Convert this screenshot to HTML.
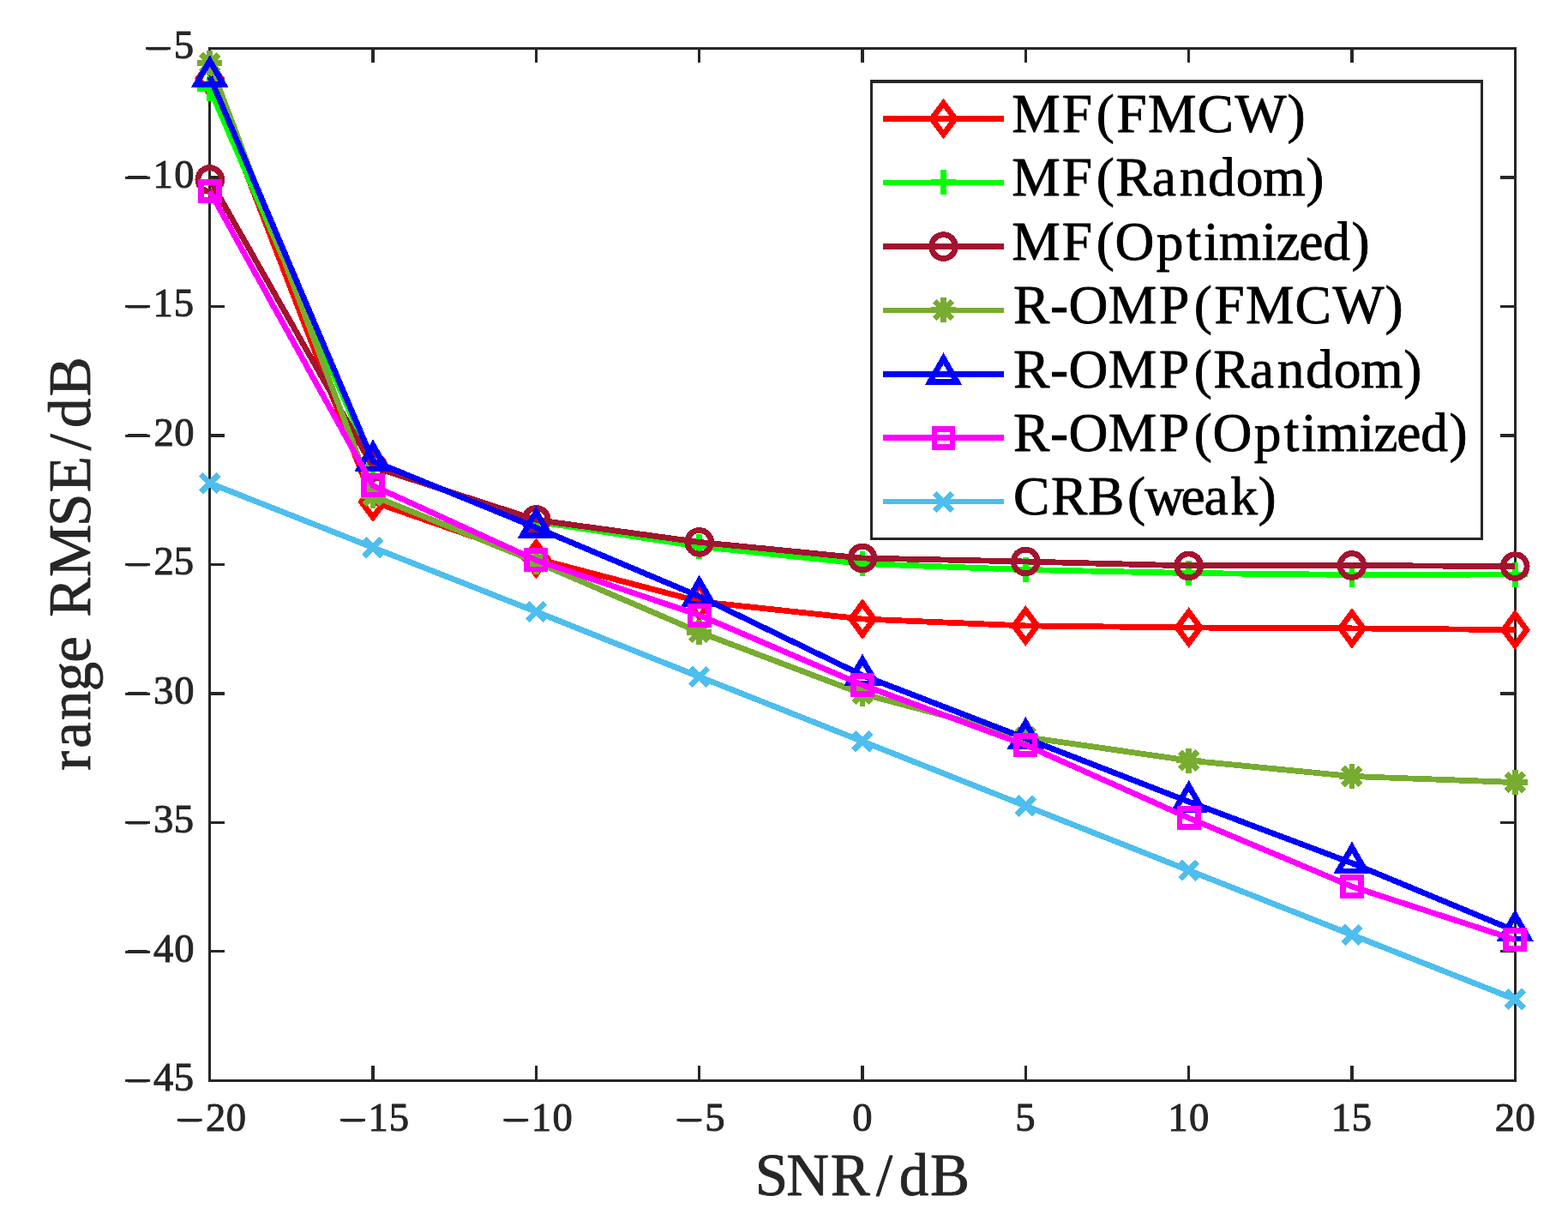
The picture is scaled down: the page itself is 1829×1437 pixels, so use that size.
<!DOCTYPE html>
<html lang="en"><head><meta charset="utf-8"><title>range RMSE/dB, SNR/dB</title>
<style>html,body{margin:0;padding:0;background:#fff}body{width:1829px;height:1437px;overflow:hidden}svg{display:block}text{font-family:"Liberation Serif","DejaVu Serif",serif;white-space:pre;stroke-linejoin:round}</style></head><body>
<svg width="1829" height="1437" viewBox="0 0 1829 1437">
<rect width="1829" height="1437" fill="#fff"/>
<g fill="#262626" shape-rendering="crispEdges">
<rect x="243" y="55" width="1526" height="3"/><rect x="243" y="1259" width="1526" height="3"/>
<rect x="243" y="55" width="3" height="1207"/><rect x="1766" y="55" width="3" height="1207"/>
<rect x="433" y="1243" width="4" height="17.2"/>
<rect x="433" y="56.7" width="4" height="16.3"/>
<rect x="624" y="1243" width="3" height="17.2"/>
<rect x="624" y="56.7" width="3" height="16.3"/>
<rect x="814" y="1243" width="3" height="17.2"/>
<rect x="814" y="56.7" width="3" height="16.3"/>
<rect x="1004" y="1243" width="4" height="17.2"/>
<rect x="1004" y="56.7" width="4" height="16.3"/>
<rect x="1195" y="1243" width="3" height="17.2"/>
<rect x="1195" y="56.7" width="3" height="16.3"/>
<rect x="1385" y="1243" width="3" height="17.2"/>
<rect x="1385" y="56.7" width="3" height="16.3"/>
<rect x="1575" y="1243" width="4" height="17.2"/>
<rect x="1575" y="56.7" width="4" height="16.3"/>
<rect x="244.75" y="205" width="17.25" height="4"/>
<rect x="1750" y="205" width="17.25" height="4"/>
<rect x="244.75" y="356" width="17.25" height="3"/>
<rect x="1750" y="356" width="17.25" height="3"/>
<rect x="244.75" y="506" width="17.25" height="4"/>
<rect x="1750" y="506" width="17.25" height="4"/>
<rect x="244.75" y="657" width="17.25" height="3"/>
<rect x="1750" y="657" width="17.25" height="3"/>
<rect x="244.75" y="807" width="17.25" height="4"/>
<rect x="1750" y="807" width="17.25" height="4"/>
<rect x="244.75" y="958" width="17.25" height="3"/>
<rect x="1750" y="958" width="17.25" height="3"/>
<rect x="244.75" y="1108" width="17.25" height="3"/>
<rect x="1750" y="1108" width="17.25" height="3"/>
</g>
<g shape-rendering="crispEdges">
<polyline points="244.75,91.5 435.06,585.2 625.38,651.5 815.69,701.6 1006,722 1196.31,729.9 1386.62,732 1576.94,732.9 1767.25,734.6" fill="none" stroke="#FF0000" stroke-width="6.8" stroke-linejoin="round" stroke-linecap="butt"/>
<path d="M244.75 73.3L258.25 91.5L244.75 109.7L231.25 91.5Z" fill="none" stroke="#FF0000" stroke-width="6.8" stroke-linejoin="miter" stroke-miterlimit="10"/>
<path d="M435.06 567L448.56 585.2L435.06 603.4L421.56 585.2Z" fill="none" stroke="#FF0000" stroke-width="6.8" stroke-linejoin="miter" stroke-miterlimit="10"/>
<path d="M625.38 633.3L638.88 651.5L625.38 669.7L611.88 651.5Z" fill="none" stroke="#FF0000" stroke-width="6.8" stroke-linejoin="miter" stroke-miterlimit="10"/>
<path d="M815.69 683.4L829.19 701.6L815.69 719.8L802.19 701.6Z" fill="none" stroke="#FF0000" stroke-width="6.8" stroke-linejoin="miter" stroke-miterlimit="10"/>
<path d="M1006 703.8L1019.5 722L1006 740.2L992.5 722Z" fill="none" stroke="#FF0000" stroke-width="6.8" stroke-linejoin="miter" stroke-miterlimit="10"/>
<path d="M1196.31 711.7L1209.81 729.9L1196.31 748.1L1182.81 729.9Z" fill="none" stroke="#FF0000" stroke-width="6.8" stroke-linejoin="miter" stroke-miterlimit="10"/>
<path d="M1386.62 713.8L1400.12 732L1386.62 750.2L1373.12 732Z" fill="none" stroke="#FF0000" stroke-width="6.8" stroke-linejoin="miter" stroke-miterlimit="10"/>
<path d="M1576.94 714.7L1590.44 732.9L1576.94 751.1L1563.44 732.9Z" fill="none" stroke="#FF0000" stroke-width="6.8" stroke-linejoin="miter" stroke-miterlimit="10"/>
<path d="M1767.25 716.4L1780.75 734.6L1767.25 752.8L1753.75 734.6Z" fill="none" stroke="#FF0000" stroke-width="6.8" stroke-linejoin="miter" stroke-miterlimit="10"/>
<polyline points="244.75,103.4 435.06,543 625.38,608.3 815.69,637.4 1006,657.5 1196.31,664.5 1386.62,668.5 1576.94,670.4 1767.25,670" fill="none" stroke="#00FF00" stroke-width="6.8" stroke-linejoin="round" stroke-linecap="butt"/>
<path d="M230.25 103.4H259.25M244.75 88.9V117.9" fill="none" stroke="#00FF00" stroke-width="6.8" stroke-linejoin="miter" stroke-miterlimit="10"/>
<path d="M420.56 543H449.56M435.06 528.5V557.5" fill="none" stroke="#00FF00" stroke-width="6.8" stroke-linejoin="miter" stroke-miterlimit="10"/>
<path d="M610.88 608.3H639.88M625.38 593.8V622.8" fill="none" stroke="#00FF00" stroke-width="6.8" stroke-linejoin="miter" stroke-miterlimit="10"/>
<path d="M801.19 637.4H830.19M815.69 622.9V651.9" fill="none" stroke="#00FF00" stroke-width="6.8" stroke-linejoin="miter" stroke-miterlimit="10"/>
<path d="M991.5 657.5H1020.5M1006 643V672" fill="none" stroke="#00FF00" stroke-width="6.8" stroke-linejoin="miter" stroke-miterlimit="10"/>
<path d="M1181.81 664.5H1210.81M1196.31 650V679" fill="none" stroke="#00FF00" stroke-width="6.8" stroke-linejoin="miter" stroke-miterlimit="10"/>
<path d="M1372.12 668.5H1401.12M1386.62 654V683" fill="none" stroke="#00FF00" stroke-width="6.8" stroke-linejoin="miter" stroke-miterlimit="10"/>
<path d="M1562.44 670.4H1591.44M1576.94 655.9V684.9" fill="none" stroke="#00FF00" stroke-width="6.8" stroke-linejoin="miter" stroke-miterlimit="10"/>
<path d="M1752.75 670H1781.75M1767.25 655.5V684.5" fill="none" stroke="#00FF00" stroke-width="6.8" stroke-linejoin="miter" stroke-miterlimit="10"/>
<polyline points="244.75,209.5 435.06,544.5 625.38,606.4 815.69,632.4 1006,651 1196.31,655 1386.62,659.9 1576.94,659.5 1767.25,660.6" fill="none" stroke="#A2142F" stroke-width="6.8" stroke-linejoin="round" stroke-linecap="butt"/>
<circle cx="244.75" cy="209.5" r="13.9" fill="none" stroke="#A2142F" stroke-width="6.8" stroke-linejoin="miter" stroke-miterlimit="10"/>
<circle cx="435.06" cy="544.5" r="13.9" fill="none" stroke="#A2142F" stroke-width="6.8" stroke-linejoin="miter" stroke-miterlimit="10"/>
<circle cx="625.38" cy="606.4" r="13.9" fill="none" stroke="#A2142F" stroke-width="6.8" stroke-linejoin="miter" stroke-miterlimit="10"/>
<circle cx="815.69" cy="632.4" r="13.9" fill="none" stroke="#A2142F" stroke-width="6.8" stroke-linejoin="miter" stroke-miterlimit="10"/>
<circle cx="1006" cy="651" r="13.9" fill="none" stroke="#A2142F" stroke-width="6.8" stroke-linejoin="miter" stroke-miterlimit="10"/>
<circle cx="1196.31" cy="655" r="13.9" fill="none" stroke="#A2142F" stroke-width="6.8" stroke-linejoin="miter" stroke-miterlimit="10"/>
<circle cx="1386.62" cy="659.9" r="13.9" fill="none" stroke="#A2142F" stroke-width="6.8" stroke-linejoin="miter" stroke-miterlimit="10"/>
<circle cx="1576.94" cy="659.5" r="13.9" fill="none" stroke="#A2142F" stroke-width="6.8" stroke-linejoin="miter" stroke-miterlimit="10"/>
<circle cx="1767.25" cy="660.6" r="13.9" fill="none" stroke="#A2142F" stroke-width="6.8" stroke-linejoin="miter" stroke-miterlimit="10"/>
<polyline points="244.75,73.5 435.06,578.3 625.38,655.5 815.69,737.35 1006,809.4 1196.31,859.7 1386.62,887 1576.94,905.5 1767.25,912.5" fill="none" stroke="#77AC30" stroke-width="6.8" stroke-linejoin="round" stroke-linecap="butt"/>
<path d="M230.25 73.5H259.25M244.75 59V88M234.5 63.25L255 83.75M234.5 83.75L255 63.25" fill="none" stroke="#77AC30" stroke-width="6.8" stroke-linejoin="miter" stroke-miterlimit="10"/>
<path d="M420.56 578.3H449.56M435.06 563.8V592.8M424.81 568.05L445.31 588.55M424.81 588.55L445.31 568.05" fill="none" stroke="#77AC30" stroke-width="6.8" stroke-linejoin="miter" stroke-miterlimit="10"/>
<path d="M610.88 655.5H639.88M625.38 641V670M615.12 645.25L635.62 665.75M615.12 665.75L635.62 645.25" fill="none" stroke="#77AC30" stroke-width="6.8" stroke-linejoin="miter" stroke-miterlimit="10"/>
<path d="M801.19 737.35H830.19M815.69 722.85V751.85M805.44 727.1L825.94 747.6M805.44 747.6L825.94 727.1" fill="none" stroke="#77AC30" stroke-width="6.8" stroke-linejoin="miter" stroke-miterlimit="10"/>
<path d="M991.5 809.4H1020.5M1006 794.9V823.9M995.75 799.15L1016.25 819.65M995.75 819.65L1016.25 799.15" fill="none" stroke="#77AC30" stroke-width="6.8" stroke-linejoin="miter" stroke-miterlimit="10"/>
<path d="M1181.81 859.7H1210.81M1196.31 845.2V874.2M1186.06 849.45L1206.56 869.95M1186.06 869.95L1206.56 849.45" fill="none" stroke="#77AC30" stroke-width="6.8" stroke-linejoin="miter" stroke-miterlimit="10"/>
<path d="M1372.12 887H1401.12M1386.62 872.5V901.5M1376.38 876.75L1396.88 897.25M1376.38 897.25L1396.88 876.75" fill="none" stroke="#77AC30" stroke-width="6.8" stroke-linejoin="miter" stroke-miterlimit="10"/>
<path d="M1562.44 905.5H1591.44M1576.94 891V920M1566.69 895.25L1587.19 915.75M1566.69 915.75L1587.19 895.25" fill="none" stroke="#77AC30" stroke-width="6.8" stroke-linejoin="miter" stroke-miterlimit="10"/>
<path d="M1752.75 912.5H1781.75M1767.25 898V927M1757 902.25L1777.5 922.75M1757 922.75L1777.5 902.25" fill="none" stroke="#77AC30" stroke-width="6.8" stroke-linejoin="miter" stroke-miterlimit="10"/>
<polyline points="244.75,89.3 435.06,537.7 625.38,615.4 815.69,695.6 1006,787.7 1196.31,861.15 1386.62,935.1 1576.94,1006.7 1767.25,1085.7" fill="none" stroke="#0000FF" stroke-width="6.8" stroke-linejoin="round" stroke-linecap="butt"/>
<path d="M244.75 70.9L260.68 98.5L228.82 98.5Z" fill="none" stroke="#0000FF" stroke-width="6.8" stroke-linejoin="miter" stroke-miterlimit="10"/>
<path d="M435.06 519.3L451 546.9L419.13 546.9Z" fill="none" stroke="#0000FF" stroke-width="6.8" stroke-linejoin="miter" stroke-miterlimit="10"/>
<path d="M625.38 597L641.31 624.6L609.44 624.6Z" fill="none" stroke="#0000FF" stroke-width="6.8" stroke-linejoin="miter" stroke-miterlimit="10"/>
<path d="M815.69 677.2L831.62 704.8L799.75 704.8Z" fill="none" stroke="#0000FF" stroke-width="6.8" stroke-linejoin="miter" stroke-miterlimit="10"/>
<path d="M1006 769.3L1021.93 796.9L990.07 796.9Z" fill="none" stroke="#0000FF" stroke-width="6.8" stroke-linejoin="miter" stroke-miterlimit="10"/>
<path d="M1196.31 842.75L1212.25 870.35L1180.38 870.35Z" fill="none" stroke="#0000FF" stroke-width="6.8" stroke-linejoin="miter" stroke-miterlimit="10"/>
<path d="M1386.62 916.7L1402.56 944.3L1370.69 944.3Z" fill="none" stroke="#0000FF" stroke-width="6.8" stroke-linejoin="miter" stroke-miterlimit="10"/>
<path d="M1576.94 988.3L1592.87 1015.9L1561 1015.9Z" fill="none" stroke="#0000FF" stroke-width="6.8" stroke-linejoin="miter" stroke-miterlimit="10"/>
<path d="M1767.25 1067.3L1783.18 1094.9L1751.32 1094.9Z" fill="none" stroke="#0000FF" stroke-width="6.8" stroke-linejoin="miter" stroke-miterlimit="10"/>
<polyline points="244.75,223 435.06,566.45 625.38,653.4 815.69,717.5 1006,799 1196.31,869 1386.62,954 1576.94,1034 1767.25,1096" fill="none" stroke="#FF00FF" stroke-width="6.8" stroke-linejoin="round" stroke-linecap="butt"/>
<rect x="234.15" y="212.4" width="21.2" height="21.2" fill="none" stroke="#FF00FF" stroke-width="6.8" stroke-linejoin="miter" stroke-miterlimit="10"/>
<rect x="424.46" y="555.85" width="21.2" height="21.2" fill="none" stroke="#FF00FF" stroke-width="6.8" stroke-linejoin="miter" stroke-miterlimit="10"/>
<rect x="614.77" y="642.8" width="21.2" height="21.2" fill="none" stroke="#FF00FF" stroke-width="6.8" stroke-linejoin="miter" stroke-miterlimit="10"/>
<rect x="805.09" y="706.9" width="21.2" height="21.2" fill="none" stroke="#FF00FF" stroke-width="6.8" stroke-linejoin="miter" stroke-miterlimit="10"/>
<rect x="995.4" y="788.4" width="21.2" height="21.2" fill="none" stroke="#FF00FF" stroke-width="6.8" stroke-linejoin="miter" stroke-miterlimit="10"/>
<rect x="1185.71" y="858.4" width="21.2" height="21.2" fill="none" stroke="#FF00FF" stroke-width="6.8" stroke-linejoin="miter" stroke-miterlimit="10"/>
<rect x="1376.03" y="943.4" width="21.2" height="21.2" fill="none" stroke="#FF00FF" stroke-width="6.8" stroke-linejoin="miter" stroke-miterlimit="10"/>
<rect x="1566.34" y="1023.4" width="21.2" height="21.2" fill="none" stroke="#FF00FF" stroke-width="6.8" stroke-linejoin="miter" stroke-miterlimit="10"/>
<rect x="1756.65" y="1085.4" width="21.2" height="21.2" fill="none" stroke="#FF00FF" stroke-width="6.8" stroke-linejoin="miter" stroke-miterlimit="10"/>
<polyline points="244.75,563.6 435.06,638.65 625.38,713.5 815.69,789.4 1006,864.7 1196.31,940 1386.62,1015.2 1576.94,1090.4 1767.25,1165.5" fill="none" stroke="#4DBEEE" stroke-width="6.8" stroke-linejoin="round" stroke-linecap="butt"/>
<path d="M234.55 553.4L254.95 573.8M234.55 573.8L254.95 553.4" fill="none" stroke="#4DBEEE" stroke-width="6.8" stroke-linejoin="miter" stroke-miterlimit="10"/>
<path d="M424.86 628.45L445.26 648.85M424.86 648.85L445.26 628.45" fill="none" stroke="#4DBEEE" stroke-width="6.8" stroke-linejoin="miter" stroke-miterlimit="10"/>
<path d="M615.17 703.3L635.58 723.7M615.17 723.7L635.58 703.3" fill="none" stroke="#4DBEEE" stroke-width="6.8" stroke-linejoin="miter" stroke-miterlimit="10"/>
<path d="M805.49 779.2L825.89 799.6M805.49 799.6L825.89 779.2" fill="none" stroke="#4DBEEE" stroke-width="6.8" stroke-linejoin="miter" stroke-miterlimit="10"/>
<path d="M995.8 854.5L1016.2 874.9M995.8 874.9L1016.2 854.5" fill="none" stroke="#4DBEEE" stroke-width="6.8" stroke-linejoin="miter" stroke-miterlimit="10"/>
<path d="M1186.11 929.8L1206.51 950.2M1186.11 950.2L1206.51 929.8" fill="none" stroke="#4DBEEE" stroke-width="6.8" stroke-linejoin="miter" stroke-miterlimit="10"/>
<path d="M1376.42 1005L1396.83 1025.4M1376.42 1025.4L1396.83 1005" fill="none" stroke="#4DBEEE" stroke-width="6.8" stroke-linejoin="miter" stroke-miterlimit="10"/>
<path d="M1566.74 1080.2L1587.14 1100.6M1566.74 1100.6L1587.14 1080.2" fill="none" stroke="#4DBEEE" stroke-width="6.8" stroke-linejoin="miter" stroke-miterlimit="10"/>
<path d="M1757.05 1155.3L1777.45 1175.7M1757.05 1175.7L1777.45 1155.3" fill="none" stroke="#4DBEEE" stroke-width="6.8" stroke-linejoin="miter" stroke-miterlimit="10"/>
</g>
<g fill="#262626" shape-rendering="crispEdges">
<rect x="1015" y="93" width="715" height="537" fill="#fff"/>
<rect x="1015" y="93" width="715" height="4"/>
<rect x="1015" y="627" width="715" height="3"/>
<rect x="1015" y="93" width="3" height="537"/>
<rect x="1727" y="93" width="3" height="537"/>
</g>
<g shape-rendering="crispEdges">
<path d="M1030 138.5H1171" fill="none" stroke="#FF0000" stroke-width="6.8"/>
<path d="M1100.5 120.3L1114 138.5L1100.5 156.7L1087 138.5Z" fill="none" stroke="#FF0000" stroke-width="6.8" stroke-linejoin="miter" stroke-miterlimit="10"/>
<path d="M1030 213H1171" fill="none" stroke="#00FF00" stroke-width="6.8"/>
<path d="M1086 212.5H1115M1100.5 198V227" fill="none" stroke="#00FF00" stroke-width="6.8" stroke-linejoin="miter" stroke-miterlimit="10"/>
<path d="M1030 287.6H1171" fill="none" stroke="#A2142F" stroke-width="6.8"/>
<circle cx="1100.5" cy="287.6" r="13.9" fill="none" stroke="#A2142F" stroke-width="6.8" stroke-linejoin="miter" stroke-miterlimit="10"/>
<path d="M1030 362H1171" fill="none" stroke="#77AC30" stroke-width="6.8"/>
<path d="M1086 361.5H1115M1100.5 347V376M1090.25 351.25L1110.75 371.75M1090.25 371.75L1110.75 351.25" fill="none" stroke="#77AC30" stroke-width="6.8" stroke-linejoin="miter" stroke-miterlimit="10"/>
<path d="M1030 436.5H1171" fill="none" stroke="#0000FF" stroke-width="6.8"/>
<path d="M1100.5 418.1L1116.43 445.7L1084.57 445.7Z" fill="none" stroke="#0000FF" stroke-width="6.8" stroke-linejoin="miter" stroke-miterlimit="10"/>
<path d="M1030 510.6H1171" fill="none" stroke="#FF00FF" stroke-width="6.8"/>
<rect x="1089.9" y="500.3" width="21.2" height="21.2" fill="none" stroke="#FF00FF" stroke-width="6.8" stroke-linejoin="miter" stroke-miterlimit="10"/>
<path d="M1030 585H1171" fill="none" stroke="#4DBEEE" stroke-width="6.8"/>
<path d="M1090.3 575.3L1110.7 595.7M1090.3 595.7L1110.7 575.3" fill="none" stroke="#4DBEEE" stroke-width="6.8" stroke-linejoin="miter" stroke-miterlimit="10"/>
</g>
<text transform="translate(1180.7 153.5)" x="-0.36 58.15 98.12 121.48 158.4 215.71 259.7 320.69" y="0" font-size="63.54" fill="#000" stroke="#000" stroke-width="0.8">MF(FMCW)</text>
<text transform="translate(1180.7 228)" x="-0.36 58.15 98.12 120.48 163.03 194.98 228.25 261.1 292.64 342.64" y="0" font-size="63.54" fill="#000" stroke="#000" stroke-width="0.8">MF(Random)</text>
<text transform="translate(1180.7 302.6)" x="-0.36 58.15 98.12 119.77 168.1 203.01 223.34 241.13 290.9 307.67 334.52 362.52 395.84" y="0" font-size="63.54" fill="#000" stroke="#000" stroke-width="0.8">MF(Optimized)</text>
<text transform="translate(1180.7 377)" x="1.41 44.28 65.72 111.95 171.42 212.12 235.48 272.4 329.71 373.7 434.69" y="0" font-size="63.54" fill="#000" stroke="#000" stroke-width="0.8">R-OMP(FMCW)</text>
<text transform="translate(1180.7 451.5)" x="1.41 44.28 65.72 111.95 171.42 212.12 234.48 277.03 308.98 342.25 375.1 406.64 456.64" y="0" font-size="63.54" fill="#000" stroke="#000" stroke-width="0.8">R-OMP(Random)</text>
<text transform="translate(1180.7 525.6)" x="1.41 44.28 65.72 111.95 171.42 212.12 233.77 282.1 317.01 337.34 355.13 404.9 421.67 448.52 476.52 509.84" y="0" font-size="63.54" fill="#000" stroke="#000" stroke-width="0.8">R-OMP(Optimized)</text>
<text transform="translate(1180.7 600)" x="1.22 45.32 88.43 134.42 154.5 196.86 223.81 254.57 286.9" y="0" font-size="63.54" fill="#000" stroke="#000" stroke-width="0.8">CRB(weak)</text>
<text font-size="46.6" fill="#262626" stroke="#262626" stroke-width="1" x="171.37 202.71" y="71.97 68.3">−5</text><text font-size="62" fill="#262626" x="167.02" y="77.08">−</text>
<text font-size="46.6" fill="#262626" stroke="#262626" stroke-width="1" x="147.37 178.5 203.15" y="222.47 218.8 218.8">−10</text><text font-size="62" fill="#262626" x="143.02" y="227.58">−</text>
<text font-size="46.6" fill="#262626" stroke="#262626" stroke-width="1" x="147.37 178.5 202.71" y="372.97 369.3 369.3">−15</text><text font-size="62" fill="#262626" x="143.02" y="378.08">−</text>
<text font-size="46.6" fill="#262626" stroke="#262626" stroke-width="1" x="147.37 179.41 203.15" y="523.47 519.8 519.8">−20</text><text font-size="62" fill="#262626" x="143.02" y="528.58">−</text>
<text font-size="46.6" fill="#262626" stroke="#262626" stroke-width="1" x="147.37 179.41 202.71" y="673.97 670.3 670.3">−25</text><text font-size="62" fill="#262626" x="143.02" y="679.08">−</text>
<text font-size="46.6" fill="#262626" stroke="#262626" stroke-width="1" x="147.37 178.95 203.15" y="824.47 820.8 820.8">−30</text><text font-size="62" fill="#262626" x="143.02" y="829.58">−</text>
<text font-size="46.6" fill="#262626" stroke="#262626" stroke-width="1" x="147.37 178.95 202.71" y="974.97 971.3 971.3">−35</text><text font-size="62" fill="#262626" x="143.02" y="980.08">−</text>
<text font-size="46.6" fill="#262626" stroke="#262626" stroke-width="1" x="147.37 179.06 203.15" y="1125.47 1121.8 1121.8">−40</text><text font-size="62" fill="#262626" x="143.02" y="1130.58">−</text>
<text font-size="46.6" fill="#262626" stroke="#262626" stroke-width="1" x="147.37 179.06 202.71" y="1275.97 1272.3 1272.3">−45</text><text font-size="62" fill="#262626" x="143.02" y="1281.08">−</text>
<text font-size="46.6" fill="#262626" stroke="#262626" stroke-width="1" x="207.99 240.03 263.77" y="1321.92 1318.8 1318.8">−20</text><text font-size="62" fill="#262626" x="203.64" y="1327.03">−</text>
<text font-size="46.6" fill="#262626" stroke="#262626" stroke-width="1" x="398.3 429.43 453.64" y="1321.92 1318.8 1318.8">−15</text><text font-size="62" fill="#262626" x="393.95" y="1327.03">−</text>
<text font-size="46.6" fill="#262626" stroke="#262626" stroke-width="1" x="588.61 619.74 644.39" y="1321.92 1318.8 1318.8">−10</text><text font-size="62" fill="#262626" x="584.26" y="1327.03">−</text>
<text font-size="46.6" fill="#262626" stroke="#262626" stroke-width="1" x="790.92 822.26" y="1321.92 1318.8">−5</text><text font-size="62" fill="#262626" x="786.57" y="1327.03">−</text>
<text font-size="46.6" fill="#262626" stroke="#262626" stroke-width="1" x="994.35" y="1318.8">0</text>
<text font-size="46.6" fill="#262626" stroke="#262626" stroke-width="1" x="1184.22" y="1318.8">5</text>
<text font-size="46.6" fill="#262626" stroke="#262626" stroke-width="1" x="1362.33 1386.97" y="1318.8 1318.8">10</text>
<text font-size="46.6" fill="#262626" stroke="#262626" stroke-width="1" x="1552.64 1576.84" y="1318.8 1318.8">15</text>
<text font-size="46.6" fill="#262626" stroke="#262626" stroke-width="1" x="1743.86 1767.6" y="1318.8 1318.8">20</text>
<text transform="translate(0 1394.3)" x="880.7 917.34 968.71 1022.12 1048.83 1084.89" y="0" font-size="68.97" fill="#262626" stroke="#262626" stroke-width="0.8">SNR/dB</text>
<text transform="translate(105.3 910) rotate(-90)" x="11.15 37.25 69.89 103.78 137.24 170.38 190.16 237.05 295.9 335.86 384.87 411.03 447.69" y="0" font-size="68.97" fill="#262626" stroke="#262626" stroke-width="0.8">range RMSE/dB</text>
</svg></body></html>
